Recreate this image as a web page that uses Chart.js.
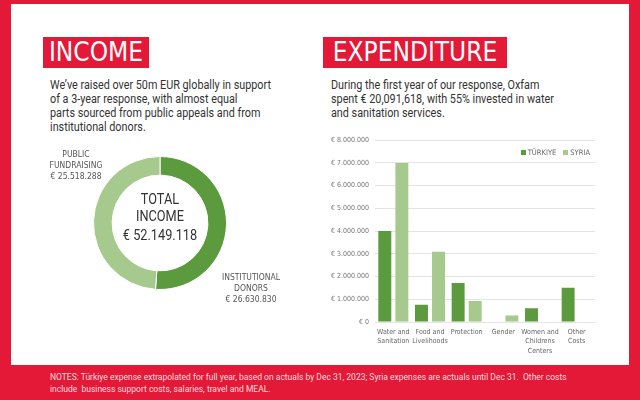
<!DOCTYPE html>
<html>
<head>
<meta charset="utf-8">
<script src="https://cdn.jsdelivr.net/npm/chart.js@4"></script>
<style>
  html, body { margin: 0; padding: 0; }
  body {
    width: 640px; height: 400px; position: relative; overflow: hidden;
    background: #e31937;
    font-family: Roboto, "DejaVu Sans", sans-serif;
  }
  .panel { position: absolute; left: 11px; top: 4px; width: 618px; height: 361px; background: #fff; }
  .tag {
    position: absolute; top: 37px; height: 31px; background: #e31937; color: #fff;
    font-family: "DejaVu Sans Condensed", "DejaVu Sans", sans-serif; font-stretch: condensed;
    font-size: 26px; line-height: 31px; text-align: center; overflow: hidden;
  }
  .intro { position: absolute; top: 78px; font-size: 12px; line-height: 14px; color: #333;
    white-space: nowrap; transform: scaleX(0.9); transform-origin: left top; }
  .lbl { position: absolute; font-size: 8.5px; line-height: 11px; color: #555; text-align: center;
    font-family: "DejaVu Sans Condensed", "DejaVu Sans", sans-serif; font-stretch: condensed; }
  .center { position: absolute; left: 100px; top: 191px; width: 120px; text-align: center;
    color: #333; font-size: 15px; transform: scaleX(0.85); }
  .legend { position: absolute; top: 148px; right: 50px; display: flex; gap: 7px; font-size: 7.5px;
    color: #666; font-family: "DejaVu Sans Condensed", "DejaVu Sans", sans-serif; font-stretch: condensed; }
  .legend span.box { display: inline-block; width: 5px; height: 5px; margin-right: 2px; vertical-align: 0px; }
  .notes { position: absolute; left: 50px; top: 371px; font-size: 8.5px; line-height: 12px;
    white-space: nowrap; color: rgba(255,255,255,0.85); }
</style>
</head>
<body>
<div class="panel"></div>

<div class="tag" style="left:43px; width:106px;">INCOME</div>
<div class="tag" style="left:323px; width:184px;">EXPENDITURE</div>

<div class="intro" style="left:50px;">We’ve raised over 50m EUR globally in support<br>of a 3-year response, with almost equal<br>parts sourced from public appeals and from<br>institutional donors.</div>
<div class="intro" style="left:331px;">During the first year of our response, Oxfam<br>spent € 20,091,618, with 55% invested in water<br>and sanitation services.</div>

<div style="position:absolute; left:93px; top:156px; width:134px; height:134px;">
  <canvas id="donut"></canvas>
</div>
<div class="center">
  <div style="line-height:17px;">TOTAL</div>
  <div style="line-height:17px;">INCOME</div>
  <div style="line-height:21px;">€ 52.149.118</div>
</div>
<div id="lblPublic" class="lbl" style="left:36px; top:149px; width:80px;"></div>
<div id="lblInst" class="lbl" style="left:211px; top:272px; width:80px;"></div>

<div style="position:absolute; left:310px; top:130px; width:290px; height:232px;">
  <canvas id="bars"></canvas>
</div>
<div id="legend" class="legend"></div>

<div class="notes">NOTES: Türkiye expense extrapolated for full year, based on actuals by Dec 31, 2023; Syria expenses are actuals until Dec 31.&nbsp; Other costs<br>include&nbsp; business support costs, salaries, travel and MEAL.</div>

<script>
// income split
const incomeLabels = ['INSTITUTIONAL DONORS', 'PUBLIC FUNDRAISING'];
const incomeValues = [26630830, 25518288];

// expenditure per sector
const sectors = [
  ['Water and', 'Sanitation'],
  ['Food and', 'Livelihoods'],
  ['Protection'],
  ['Gender'],
  ['Women and', 'Childrens', 'Centers'],
  ['Other', 'Costs']
];
const countries = ['TÜRKIYE', 'SYRIA'];
const turkiye = [4000000, 760000, 1720000, 0, 610000, 1510000];
const syria = [7000000, 3090000, 920000, 290000, 0, 0];

const darkGreen = '#5c9a3e';
const lightGreen = '#a6c98d';

const fmt = v => '€ ' + v.toString().replace(/\B(?=(\d{3})+(?!\d))/g, '.');

document.getElementById('lblPublic').innerHTML = 'PUBLIC<br>FUNDRAISING<br>' + fmt(incomeValues[1]);
document.getElementById('lblInst').innerHTML = 'INSTITUTIONAL<br>DONORS<br>' + fmt(incomeValues[0]);

new Chart(document.getElementById('donut'), {
  type: 'doughnut',
  data: {
    labels: incomeLabels,
    datasets: [{
      data: incomeValues,
      backgroundColor: [darkGreen, lightGreen],
      borderColor: '#fff',
      borderWidth: 1
    }]
  },
  options: {
    responsive: true,
    maintainAspectRatio: false,
    animation: false,
    cutout: '72%',
    plugins: { legend: { display: false }, tooltip: { enabled: false } }
  }
});

const tickFont = { family: '"DejaVu Sans Condensed", "DejaVu Sans", sans-serif', size: 7 };

const barChart = new Chart(document.getElementById('bars'), {
  type: 'bar',
  data: {
    labels: sectors,
    datasets: [
      { label: countries[0], data: turkiye, backgroundColor: darkGreen },
      { label: countries[1], data: syria, backgroundColor: lightGreen }
    ]
  },
  options: {
    responsive: true,
    maintainAspectRatio: false,
    animation: false,
    categoryPercentage: 0.93,
    barPercentage: 0.76,
    layout: { padding: { top: 9, right: 5, bottom: 0, left: 0 } },
    scales: {
      y: {
        min: 0,
        max: 8000000,
        ticks: { stepSize: 1000000, color: '#777', font: tickFont, padding: 6, callback: v => fmt(v) },
        grid: { color: '#e3e3e3', drawTicks: false },
        border: { display: false },
        afterFit: s => { s.width = 65; }
      },
      x: {
        ticks: { color: '#666', font: { ...tickFont, lineHeight: 1.3 }, padding: 6, maxRotation: 0, autoSkip: false },
        grid: { display: false, drawTicks: false },
        border: { display: false },
        afterFit: s => { s.height = 40; }
      }
    },
    plugins: {
      tooltip: { enabled: false },
      legend: { display: false }
    }
  }
});

// html legend built from the chart's datasets
document.getElementById('legend').innerHTML = barChart.data.datasets.map(ds =>
  '<div><span class="box" style="background:' + ds.backgroundColor + '"></span>' + ds.label + '</div>'
).join('');
</script>
</body>
</html>
